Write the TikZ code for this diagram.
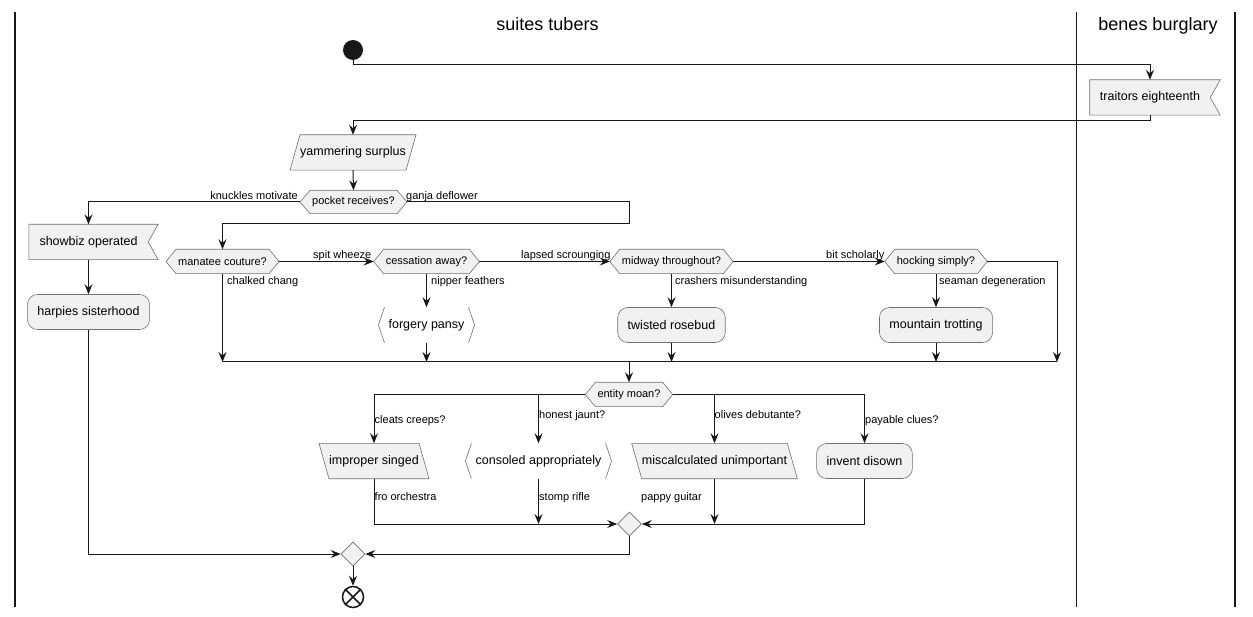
\documentclass[tikz,border=0pt]{standalone}
\usepackage{fontspec}
\setmainfont{Liberation Sans}
\usetikzlibrary{arrows.meta,backgrounds,shapes.geometric}
\definecolor{boxfill}{HTML}{F1F1F1}
\definecolor{ink}{HTML}{181818}
\definecolor{rim}{HTML}{707070}

\tikzset{
  flow/.style={draw=ink, line width=1pt, -{Stealth[length=10pt,width=8pt,inset=3.5pt]}},
  plain/.style={draw=ink, line width=1pt},
  lane/.style={draw=ink, line width=1.8pt},
  boxtext/.style={font=\fontsize{12.5}{14}\selectfont},
  act/.style={rectangle, rounded corners=10pt, draw=rim, line width=0.6pt, fill=boxfill,
    minimum height=35pt, inner xsep=10pt, inner ysep=0pt, boxtext},
  body/.style={rectangle, minimum height=35pt, inner xsep=10pt, inner ysep=0pt, boxtext},
  slantbody/.style={body, inner xsep=5pt},
  cond/.style={rectangle, minimum height=24pt, inner xsep=12pt, inner ysep=0pt,
    font=\fontsize{11}{13}\selectfont},
  merge/.style={diamond, draw=rim, line width=0.6pt, fill=boxfill,
    minimum width=24pt, minimum height=24pt, inner sep=0pt},
  lbl/.style={font=\fontsize{11}{13}\selectfont, inner sep=0pt},
  title/.style={font=\fontsize{18}{21}\selectfont, inner sep=0pt},
  outline/.style={draw=rim, line width=0.6pt, fill=boxfill},
  rimline/.style={draw=rim, line width=0.6pt},
}

% outlines drawn around named text nodes
\newcommand\hexout[1]{\path[outline] (#1.west) -- ([xshift=10pt]#1.north west)
  -- ([xshift=-10pt]#1.north east) -- (#1.east) -- ([xshift=-10pt]#1.south east)
  -- ([xshift=10pt]#1.south west) -- cycle;}
\newcommand\flagout[1]{\path[outline] (#1.north west) -- ([xshift=10pt]#1.north east)
  -- (#1.east) -- ([xshift=10pt]#1.south east) -- (#1.south west) -- cycle;}
\newcommand\slantfwd[1]{\path[outline] ([xshift=5pt]#1.north west) -- ([xshift=5pt]#1.north east)
  -- ([xshift=-5pt]#1.south east) -- ([xshift=-5pt]#1.south west) -- cycle;}
\newcommand\slantbwd[1]{\path[outline] ([xshift=-5pt]#1.north west) -- ([xshift=-5pt]#1.north east)
  -- ([xshift=5pt]#1.south east) -- ([xshift=5pt]#1.south west) -- cycle;}
\newcommand\angleout[1]{\path[rimline] ([xshift=6pt]#1.north west) -- (#1.west)
  -- ([xshift=6pt]#1.south west) ([xshift=-6pt]#1.north east) -- (#1.east)
  -- ([xshift=-6pt]#1.south east);}

\begin{document}
\begin{tikzpicture}[x=1pt, y=-1pt]
\useasboundingbox (0,0) rectangle (1253,617);

% swimlanes
\draw[lane] (15,12) -- (15,607);
\draw[lane] (1076.5,12) -- (1076.5,607);
\draw[lane] (1235,12) -- (1235,607);
\node[title, anchor=base] (laneA) at (547.5,31) {suites tubers};
\node[title, anchor=base] (laneB) at (1158,31) {benes burglary};

% nodes
\node[circle, fill=ink, minimum size=20pt, inner sep=0pt] (start) at (353,50) {};
\node[body] (traitors) at (1150,97.5) {traitors eighteenth};
\node[slantbody] (yam) at (353,152.5) {yammering surplus};
\node[cond, minimum height=23pt] (pocket) at (353.5,202) {pocket receives?};
\node[body, inner xsep=10.5pt] (showbiz) at (88.5,242) {showbiz operated};
\node[act] (harpies) at (88.5,312) {harpies sisterhood};

\node[cond] (manatee) at (222.5,261.5) {manatee couture?};
\node[cond] (cessation) at (426.5,261.5) {cessation away?};
\node[cond] (midway) at (671.5,261.5) {midway throughout?};
\node[cond] (hocking) at (936,261.5) {hocking simply?};

\node[body] (forgery) at (426.5,325) {forgery pansy};
\node[act] (rosebud) at (671.5,325) {twisted rosebud};
\node[act] (trotting) at (936,325) {mountain trotting};

\node[cond] (entity) at (629,394.5) {entity moan?};
\node[slantbody] (improper) at (374,461) {improper singed};
\node[body] (consoled) at (538.5,461) {consoled appropriately};
\node[slantbody] (misc) at (714.5,461) {miscalculated unimportant};
\node[act] (invent) at (864.5,461) {invent disown};

\node[merge] (m2) at (629.5,524) {};
\node[merge] (fin) at (353,554) {};
\node[circle, draw=ink, line width=1.5pt, minimum size=21pt, inner sep=0pt] (end) at (353,597) {};
\draw[ink, line width=1.5pt] (end.north east) -- (end.south west) (end.north west) -- (end.south east);

% shape outlines behind the texts
\begin{scope}[on background layer]
  \flagout{traitors}
  \flagout{showbiz}
  \slantfwd{yam}
  \slantbwd{improper}
  \slantbwd{misc}
  \hexout{pocket}
  \hexout{manatee}
  \hexout{cessation}
  \hexout{midway}
  \hexout{hocking}
  \hexout{entity}
\end{scope}
\angleout{forgery}
\angleout{consoled}

% bend points
\coordinate (gj) at (629,224);
\coordinate (mergeR) at (1057,362);

% connectors
\draw[flow] (start.south) |- ([yshift=15pt]traitors.north) -- (traitors.north);
\draw[flow] (traitors.south) -- ++(0,5) -| (yam.north);
\draw[flow] (yam.south) -- (pocket.north);
\draw[flow] (pocket.west) -| (showbiz.north);
\draw[flow] (pocket.east) -| (gj) -| (manatee.north);
\draw[flow] (showbiz.south) -- (harpies.north);
\draw[flow] (harpies.south) |- (fin.west);

\draw[flow] (manatee.east) -- (cessation.west);
\draw[flow] (cessation.east) -- (midway.west);
\draw[flow] (midway.east) -- (hocking.west);
\draw[flow] (hocking.east) -| (mergeR);

\draw[flow] (manatee.south) -- (manatee.south |- mergeR);
\draw[flow] (cessation.south) -- (forgery.north);
\draw[flow] (forgery.south) -- (forgery.south |- mergeR);
\draw[flow] (midway.south) -- (rosebud.north);
\draw[flow] (rosebud.south) -- (rosebud.south |- mergeR);
\draw[flow] (hocking.south) -- (trotting.north);
\draw[flow] (trotting.south) -- (trotting.south |- mergeR);
\draw[plain] (manatee.south |- mergeR) -- (mergeR);
\draw[flow] (entity.north |- mergeR) -- (entity.north);

\draw[flow] (entity.west) -| (improper.north);
\draw[flow] (entity.west -| consoled.north) -- (consoled.north);
\draw[flow] (entity.east) -| (invent.north);
\draw[flow] (entity.east -| misc.north) -- (misc.north);

\draw[flow] (improper.south) |- (m2.west);
\draw[flow] (consoled.south) -- (consoled.south |- m2.west);
\draw[flow] (misc.south) -- (misc.south |- m2.east);
\draw[flow] (invent.south) |- (m2.east);
\draw[flow] (m2.south) |- (fin.east);
\draw[flow] (fin.south) -- (end.north);

% connector labels
\node[lbl, anchor=base east] (lkm) at (298,199.5) {knuckles motivate};
\node[lbl, anchor=base west] (lgd) at (406,199.5) {ganja deflower};
\node[lbl, anchor=base west] (lsw) at (313,259) {spit wheeze};
\node[lbl, anchor=base west] (lls) at (521,259) {lapsed scrounging};
\node[lbl, anchor=base west] (lbs) at (826,259) {bit scholarly};
\node[lbl, anchor=base west] (lcc) at (227,285) {chalked chang};
\node[lbl, anchor=base west] (lnf) at (431,285) {nipper feathers};
\node[lbl, anchor=base west] (lcm) at (675,285) {crashers misunderstanding};
\node[lbl, anchor=base west] (lsd) at (939,285) {seaman degeneration};
\node[lbl, anchor=base west] (lce) at (374.5,424) {cleats creeps?};
\node[lbl, anchor=base west] (lhj) at (539,418.5) {honest jaunt?};
\node[lbl, anchor=base west] (lod) at (714.5,418.5) {olives debutante?};
\node[lbl, anchor=base west] (lpc) at (865,423.5) {payable clues?};
\node[lbl, anchor=base west] (lfo) at (374.5,500) {fro orchestra};
\node[lbl, anchor=base west] (lsr) at (539,500) {stomp rifle};
\node[lbl, anchor=base west] (lpg) at (641,500) {pappy guitar};
\end{tikzpicture}
\end{document}
